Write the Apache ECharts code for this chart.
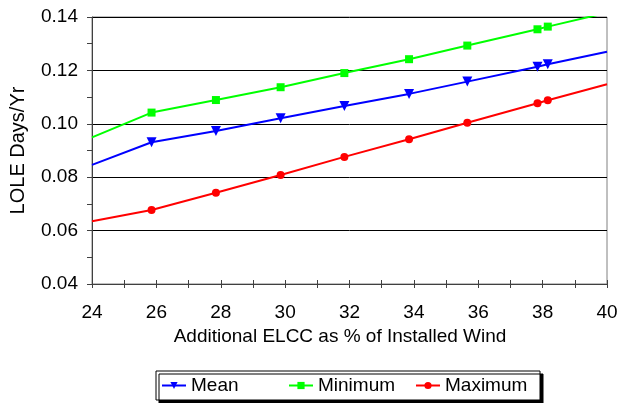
<!DOCTYPE html>
<html>
<head>
<meta charset="utf-8">
<script src="https://cdn.jsdelivr.net/npm/echarts@6/dist/echarts.min.js"></script>
<style>html,body{margin:0;padding:0;background:#fff}#c{width:622px;height:403px}</style>
</head>
<body>
<div id="c"></div>
<script>
// Data
var xVals    = [25.85, 27.85, 29.86, 31.84, 33.85, 35.66, 37.84, 38.16];
var meanVals = [0.0931, 0.0973, 0.1021, 0.1067, 0.1112, 0.1158, 0.1214, 0.1223];
var minVals  = [0.1042, 0.1089, 0.1137, 0.1190, 0.1242, 0.1293, 0.1354, 0.1364];
var maxVals  = [0.0677, 0.0742, 0.0808, 0.0876, 0.0942, 0.1004, 0.1077, 0.1088];
// Line ends (no marker) at the axis extremes
var edgeX    = [24, 40];
var meanEdge = [0.0846, 0.1270];
var minEdge  = [0.0949, 0.1416];
var maxEdge  = [0.0635, 0.1148];
var yTicks   = ['0.04','0.06','0.08','0.10','0.12','0.14'];
var seriesNames = ['Mean', 'Minimum', 'Maximum'];

function build(vals, edge) {
  var d = [{value: [edgeX[0], edge[0]], symbol: 'none'}];
  for (var i = 0; i < xVals.length; i++) d.push([xVals[i], vals[i]]);
  d.push({value: [edgeX[1], edge[1]], symbol: 'none'});
  return d;
}

var font = 'Liberation Sans, Arial, sans-serif';
var chart = echarts.init(document.getElementById('c'), null, {renderer: 'canvas'});
chart.setOption({
  animation: false,
  textStyle: {fontFamily: font},
  grid: {left: 92, right: 15, top: 17, bottom: 119, show: true, borderColor: '#808080', borderWidth: 1},
  xAxis: [{
    type: 'value', min: 24, max: 40, interval: 2,
    axisLine: {lineStyle: {color: '#404040', width: 1}},
    axisTick: {show: true, length: 4, lineStyle: {color: '#404040'}},
    minorTick: {show: true, splitNumber: 2, length: 4, lineStyle: {color: '#404040'}},
    splitLine: {show: false},
    axisLabel: {color: '#000', fontSize: 19, margin: 19, fontFamily: font},
    name: 'Additional ELCC as % of Installed Wind',
    nameLocation: 'middle', nameGap: 41,
    nameTextStyle: {color: '#000', fontSize: 19, fontFamily: font, padding: [0, 19, 0, 0]}
  }, {
    type: 'value', min: 24, max: 40, interval: 2, position: 'bottom',
    axisLine: {show: false},
    axisTick: {show: true, inside: true, length: 4, lineStyle: {color: '#404040'}},
    minorTick: {show: true, splitNumber: 2, length: 4, lineStyle: {color: '#404040'}},
    splitLine: {show: false}, axisLabel: {show: false}
  }],
  yAxis: {
    type: 'value', min: 0.04, max: 0.14, interval: 0.02,
    axisLine: {show: true, lineStyle: {color: '#404040', width: 1}},
    axisTick: {show: true, length: 5, lineStyle: {color: '#404040'}},
    minorTick: {show: true, splitNumber: 2, length: 5, lineStyle: {color: '#404040'}},
    splitLine: {show: true, lineStyle: {color: '#000', width: 1}},
    axisLabel: {color: '#000', fontSize: 19, margin: 14, fontFamily: font,
      formatter: function (v) { var s = v.toFixed(2); return yTicks.indexOf(s) >= 0 ? s : ''; }},
    name: 'LOLE Days/Yr', nameLocation: 'middle', nameGap: 64,
    nameTextStyle: {color: '#000', fontSize: 20, fontFamily: font}
  },
  legend: {
    left: 156, top: 371,
    backgroundColor: '#fff', borderColor: '#000', borderWidth: 1,
    shadowColor: '#000', shadowOffsetX: 3, shadowOffsetY: 3, shadowBlur: 0,
    padding: [5, 8, 5, 5],
    itemWidth: 24, itemHeight: 9, itemGap: 10,
    formatter: function (n) { return '{t|' + n + '}'; },
    textStyle: {color: '#000', fontSize: 19, fontFamily: font,
      rich: {t: {width: 87, fontSize: 19, lineHeight: 20, fontFamily: font, color: '#000'}}},
    data: seriesNames
  },
  series: [{
    name: seriesNames[0], type: 'line', data: build(meanVals, meanEdge),
    symbol: 'triangle', symbolRotate: 180, symbolSize: 10, showAllSymbol: true,
    lineStyle: {color: '#0000FF', width: 2}, itemStyle: {color: '#0000FF'}
  }, {
    name: seriesNames[1], type: 'line', data: build(minVals, minEdge),
    symbol: 'rect', symbolSize: 8, showAllSymbol: true,
    lineStyle: {color: '#00FF00', width: 2}, itemStyle: {color: '#00FF00'}
  }, {
    name: seriesNames[2], type: 'line', data: build(maxVals, maxEdge),
    symbol: 'circle', symbolSize: 8, showAllSymbol: true,
    lineStyle: {color: '#FF0000', width: 2}, itemStyle: {color: '#FF0000'}
  }]
});
</script>
</body>
</html>
